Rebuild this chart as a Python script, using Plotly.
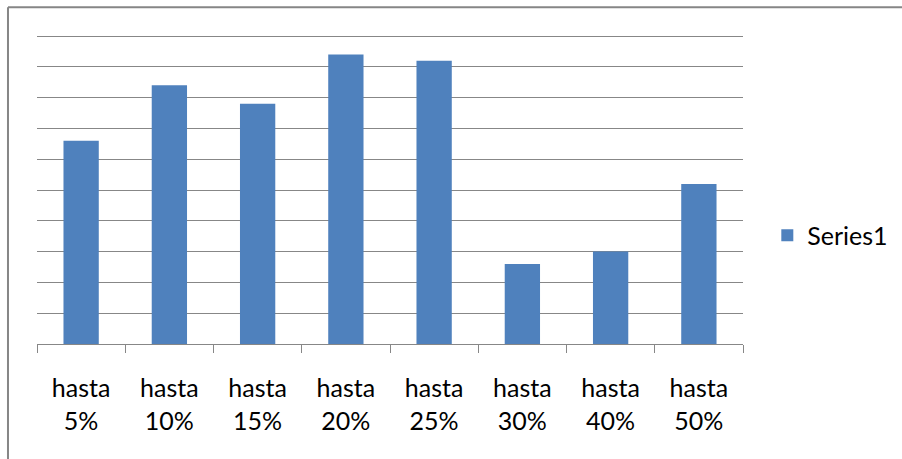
import plotly.graph_objects as go

categories = ["hasta<br>5%", "hasta<br>10%", "hasta<br>15%", "hasta<br>20%",
              "hasta<br>25%", "hasta<br>30%", "hasta<br>40%", "hasta<br>50%"]
series1 = [33, 42, 39, 47, 46, 13, 15, 26]
y_max = 50
y_top = 50.5  # small headroom so the top gridline is drawn

W, H = 902, 459
L, R, T50, B = 37, 742.7, 36.3, 343.7
T = B - (B - T50) * y_top / y_max
pw, ph = R - L, B - T

def px_x(p):
    return (p - L) / pw

def px_y(p):
    return (B - p) / ph

GRID = "#878787"
FONT = "Lato"

fig = go.Figure()
fig.add_trace(go.Bar(x=categories, y=series1, name="Series1",
                     marker=dict(color="#4F81BD", line=dict(width=0)),
                     showlegend=True))

fig.update_layout(
    width=W, height=H,
    margin=dict(l=L, r=W - R, t=T, b=H - B, autoexpand=False),
    paper_bgcolor="white", plot_bgcolor="white",
    bargap=0.6,
    font=dict(family=FONT, size=25, color="#000000"),
    showlegend=True,
    legend=dict(x=px_x(767), xanchor="left", y=px_y(235.5), yanchor="middle",
                font=dict(family=FONT, size=25, color="#000000"),
                bgcolor="rgba(0,0,0,0)", borderwidth=0),
    xaxis=dict(showline=True, linecolor=GRID, linewidth=1.3,
               ticks="outside", ticklen=8, tickcolor=GRID, tickwidth=1.3,
               tickson="boundaries", showgrid=False, ticklabelstandoff=22,
               tickfont=dict(family=FONT, size=25, color="#000000")),
    yaxis=dict(range=[0, y_top], dtick=5, showticklabels=False, showgrid=True,
               gridcolor=GRID, gridwidth=1.3, zeroline=False, showline=False,
               fixedrange=True),
    shapes=[
        dict(type="line", xref="paper", yref="paper",
             x0=px_x(8), x1=px_x(W), y0=px_y(7.5), y1=px_y(7.5),
             line=dict(color="#868686", width=2), layer="below"),
        dict(type="line", xref="paper", yref="paper",
             x0=px_x(8), x1=px_x(8), y0=px_y(7.5), y1=px_y(H),
             line=dict(color="#868686", width=2), layer="below"),
    ],
)

fig.write_html("out.html", config={"displayModeBar": False})
